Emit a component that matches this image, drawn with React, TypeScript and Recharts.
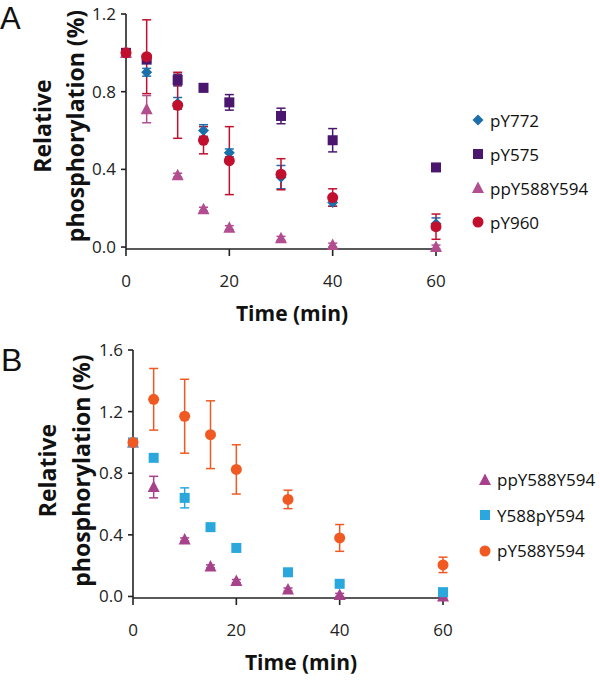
import React from 'react';
import { ScatterChart, Scatter, XAxis, YAxis, ErrorBar, Legend, Label } from 'recharts';

const times = [0, 4, 10, 15, 20, 30, 40, 60];
const xTicks = [0, 20, 40, 60];
const yTicksA = [0, 0.4, 0.8, 1.2];
const yTicksB = [0, 0.4, 0.8, 1.2, 1.6];

// panel A
const pY772 = [1.0, 0.9, 0.74, 0.6, 0.485, 0.36, 0.23, 0.12];
const pY772Err = [0, 0.02, 0.03, 0.03, 0.02, 0.06, 0.02, 0.03];
const pY575 = [1.0, 0.965, 0.86, 0.82, 0.745, 0.675, 0.55, 0.41];
const pY575Err = [0, 0.01, 0.03, 0.02, 0.04, 0.04, 0.06, 0.01];
const ppYA = [1.0, 0.71, 0.37, 0.195, 0.1, 0.045, 0.01, 0.0];
const ppYAErr = [0, 0.07, 0.01, 0.01, 0.01, 0.01, 0.01, 0.01];
const pY960 = [1.0, 0.98, 0.73, 0.55, 0.445, 0.375, 0.255, 0.105];
const pY960Err = [0, 0.19, 0.17, 0.07, 0.175, 0.08, 0.045, 0.065];

// panel B
const ppYB = [1.0, 0.71, 0.37, 0.195, 0.1, 0.045, 0.01, 0.0];
const ppYBErr = [0, 0.07, 0.01, 0.01, 0.01, 0.01, 0.01, 0.01];
const y588pY594 = [1.0, 0.9, 0.64, 0.45, 0.315, 0.157, 0.082, 0.028];
const y588pY594Err = [0, 0.02, 0.065, 0.01, 0.02, 0.01, 0.01, 0.01];
const pY588Y594 = [1.0, 1.28, 1.17, 1.05, 0.825, 0.63, 0.38, 0.205];
const pY588Y594Err = [0, 0.2, 0.24, 0.22, 0.16, 0.06, 0.087, 0.05];

const rows = (vals: number[], errs: number[]) => times.map((t, i) => ({ t, v: vals[i], e: errs[i] }));

const seriesA = [
  { name: 'pY772', color: '#1b6fab', kind: 'diamond', data: rows(pY772, pY772Err) },
  { name: 'pY575', color: '#4b176e', kind: 'square', data: rows(pY575, pY575Err) },
  { name: 'ppY588Y594', color: '#b24d8f', kind: 'triangle', data: rows(ppYA, ppYAErr) },
  { name: 'pY960', color: '#c0102e', kind: 'circle', data: rows(pY960, pY960Err) },
];

const seriesB = [
  { name: 'ppY588Y594', color: '#a8418c', kind: 'triangle', data: rows(ppYB, ppYBErr) },
  { name: 'Y588pY594', color: '#2aa8de', kind: 'square', data: rows(y588pY594, y588pY594Err) },
  { name: 'pY588Y594', color: '#f05a22', kind: 'circle', data: rows(pY588Y594, pY588Y594Err) },
];

const font = "'Open Sans', sans-serif";
const axisColor = '#222';

function Marker({ cx, cy, fill, kind }: any) {
  if (cx == null || cy == null) return null;
  if (kind === 'diamond') {
    const r = 5.5;
    return <polygon points={`${cx},${cy - r} ${cx + r},${cy} ${cx},${cy + r} ${cx - r},${cy}`} fill={fill} />;
  }
  if (kind === 'square') {
    return <rect x={cx - 5} y={cy - 5} width={10} height={10} fill={fill} />;
  }
  if (kind === 'triangle') {
    return <polygon points={`${cx},${cy - 6.5} ${cx + 6},${cy + 5} ${cx - 6},${cy + 5}`} fill={fill} />;
  }
  return <circle cx={cx} cy={cy} r={5.5} fill={fill} />;
}

function LegendBox({ items, gap }: any) {
  return (
    <div style={{ fontFamily: font, fontSize: 17, color: '#111' }}>
      {items.map((s: any) => (
        <div key={s.name} style={{ display: 'flex', alignItems: 'center', height: gap }}>
          <svg width={14} height={14} style={{ marginRight: 5 }}>
            <Marker cx={7} cy={7} fill={s.color} kind={s.kind} />
          </svg>
          <span>{s.name}</span>
        </div>
      ))}
    </div>
  );
}

function YTitle({ viewBox, c1, c2, cy }: any) {
  const x1 = viewBox.x + c1;
  const x2 = viewBox.x + c2;
  const y = viewBox.y + cy;
  const st = { fontFamily: font, fontSize: 23, fontWeight: 700, fill: '#111' };
  return (
    <g>
      <text x={x1} y={y} transform={`rotate(-90, ${x1}, ${y})`} textAnchor="middle" dominantBaseline="central" style={st}>
        Relative
      </text>
      <text x={x2} y={y} transform={`rotate(-90, ${x2}, ${y})`} textAnchor="middle" dominantBaseline="central" style={st}>
        phosphorylation (%)
      </text>
    </g>
  );
}

function XTitle({ viewBox, dx, dy }: any) {
  return (
    <text
      x={viewBox.x + viewBox.width / 2 + dx}
      y={viewBox.y + dy}
      textAnchor="middle"
      dominantBaseline="central"
      style={{ fontFamily: font, fontSize: 21, fontWeight: 700, fill: '#111' }}
    >
      Time (min)
    </text>
  );
}

function Panel({ series, yMax, yTicks, height, top, right, yWidth, legendPos, legendGap, yt, xt }: any) {
  return (
    <ScatterChart width={600} height={height} margin={{ top, right, left: 0, bottom: 0 }}>
      <XAxis
        type="number"
        dataKey="t"
        domain={[0, 60]}
        ticks={xTicks}
        height={height - top - yt.plotH}
        stroke={axisColor}
        strokeWidth={1.6}
        tickSize={7}
        tickMargin={19}
        tick={{ fontSize: 17, fill: '#222', fontFamily: font }}
        label={<Label content={(p: any) => <XTitle {...p} dx={xt.dx} dy={xt.dy} />} />}
      />
      <YAxis
        type="number"
        dataKey="v"
        domain={[0, yMax]}
        ticks={yTicks}
        width={yWidth}
        stroke={axisColor}
        strokeWidth={1.6}
        tickSize={5}
        tickMargin={5}
        tickFormatter={(v: number) => v.toFixed(1)}
        tick={{ fontSize: 17, fill: '#222', fontFamily: font }}
        label={<Label content={(p: any) => <YTitle {...p} c1={yt.c1} c2={yt.c2} cy={yt.cy} />} />}
      />
      {series.map((s: any) => (
        <Scatter
          key={s.name}
          name={s.name}
          data={s.data}
          fill={s.color}
          isAnimationActive={false}
          shape={(p: any) => <Marker cx={p.cx} cy={p.cy} fill={s.color} kind={s.kind} />}
        >
          <ErrorBar dataKey="e" direction="y" width={4.5} stroke={s.color} strokeWidth={1.5} />
        </Scatter>
      ))}
      <Legend
        layout="vertical"
        align="center"
        verticalAlign="middle"
        wrapperStyle={{ position: 'absolute', left: legendPos[0], top: legendPos[1], width: 140 }}
        content={() => <LegendBox items={series} gap={legendGap} />}
      />
    </ScatterChart>
  );
}

export default function App() {
  return (
    <div style={{ position: 'absolute', left: 0, top: 0, width: 600, height: 681, background: '#fff' }}>
      <div style={{ position: 'absolute', left: 0, top: 0 }}>
        <Panel
          series={seriesA}
          yMax={1.2}
          yTicks={yTicksA}
          height={330}
          top={14}
          right={164}
          yWidth={126}
          legendPos={[471, 103]}
          legendGap={34}
          yt={{ plotH: 235, c1: 42, c2: 74.5, cy: 112 }}
          xt={{ dx: 11, dy: 64 }}
        />
      </div>
      <div style={{ position: 'absolute', left: 0, top: 330 }}>
        <Panel
          series={seriesB}
          yMax={1.6}
          yTicks={yTicksB}
          height={351}
          top={20}
          right={157}
          yWidth={133}
          legendPos={[478, 132]}
          legendGap={35.5}
          yt={{ plotH: 248, c1: 47, c2: 81, cy: 120.6 }}
          xt={{ dx: 13, dy: 64 }}
        />
      </div>
      <svg style={{ position: 'absolute', left: 0, top: 0 }} width={40} height={400}>
        <text x={0} y={28.5} style={{ fontFamily: "'Liberation Sans', Arial, sans-serif", fontSize: 31, fill: '#111' }}>A</text>
        <text x={1} y={371} style={{ fontFamily: "'Liberation Sans', Arial, sans-serif", fontSize: 32, fill: '#111' }}>B</text>
      </svg>
    </div>
  );
}
